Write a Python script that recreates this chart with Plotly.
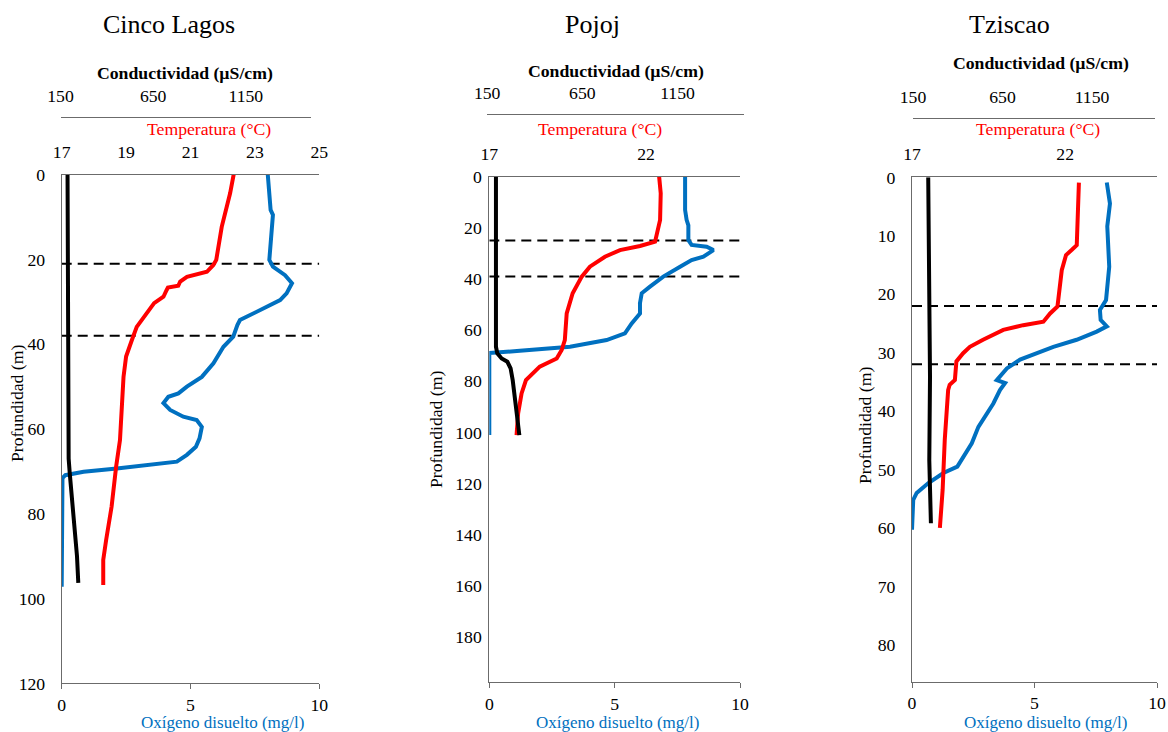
import plotly.graph_objects as go

# ---------------- Cinco Lagos ----------------
cl_oxy_depth = [0, 8.3, 9.5, 20.1, 21.7, 23.7, 25.6, 28, 29.6, 31.1, 32.7, 34.3, 35.5, 38.2,
                40.6, 44.5, 47.7, 50, 51.6, 52.4, 53.9, 55.5, 57.1, 57.9, 59.5, 62.2, 64.2,
                66.1, 67.7, 68.5, 69.3, 70.1, 70.9, 71.6, 97.2]
cl_oxy = [8.0, 8.11, 8.2, 8.06, 8.2, 8.67, 8.94, 8.73, 8.48, 7.96, 7.44, 6.92, 6.82, 6.66,
          6.28, 5.89, 5.44, 4.86, 4.53, 4.14, 3.95, 4.21, 4.72, 5.24, 5.44, 5.35, 5.21,
          4.86, 4.47, 3.43, 2.14, 0.85, 0.14, 0.03, 0.0]
cl_temp_depth = [0, 4.4, 12.3, 20.1, 21.3, 22.9, 24.1, 25.2, 26.2, 26.6, 27.2, 28.8, 30.3, 33.5,
                 35.9, 39, 42.9, 47.7, 55.5, 62.6, 68.9, 78.3, 86.2, 90.9, 96.8]
cl_temp = [22.34, 22.23, 21.97, 21.80, 21.71, 21.51, 20.89, 20.68, 20.62, 20.30, 20.26, 20.16,
           19.87, 19.54, 19.33, 19.18, 19.0, 18.92, 18.87, 18.81, 18.69, 18.55, 18.38, 18.29, 18.29]
cl_cond_depth = [0, 20, 40, 60, 67, 70.5, 80, 90, 96.3]
cl_cond = [188, 190, 192, 193, 194, 200, 220, 239, 246]
cl_thermocline = [21, 38]

# ---------------- Pojoj ----------------
pj_oxy_depth = [0, 13, 16.9, 19, 24.8, 26.7, 27.4, 28.7, 31.3, 32.6, 35.2, 39.1, 43, 45.6,
                49.5, 53.5, 57.4, 61.3, 63.9, 66.5, 68.1, 68.7, 69.0, 101.1]
pj_oxy = [7.81, 7.81, 7.87, 7.94, 7.94, 8.07, 8.67, 8.94, 8.54, 8.07, 7.61, 6.94, 6.41, 6.08,
          6.01, 6.01, 5.68, 5.41, 4.68, 3.22, 1.22, 0.1, 0.0, 0.0]
pj_temp_depth = [0, 6.5, 16.9, 20.9, 25.4, 27.1, 28.7, 31.3, 35.2, 39.1, 45.6, 53.5, 63.9,
                 67.8, 71.1, 74.3, 79.6, 84.8, 92.6, 101.1]
pj_temp = [22.42, 22.47, 22.45, 22.36, 22.29, 21.81, 21.17, 20.69, 20.21, 19.95, 19.66, 19.47,
           19.41, 19.31, 19.15, 18.61, 18.17, 18.03, 17.92, 17.87]
pj_cond_depth = [0, 32.6, 58.7, 66.5, 69.1, 71.1, 72.4, 75, 79.6, 87.4, 95.2, 101.1]
pj_cond = [196, 196, 191, 196, 203, 226, 256, 273, 284, 296, 308, 319]
pj_thermocline = [25, 39]

# ---------------- Tziscao ----------------
tz_oxy_depth = [0.9, 4.5, 8.4, 15.3, 21, 22.7, 24.4, 25.5, 26.4, 27.8, 29, 30.1, 31.2, 32.7,
                34.7, 35.2, 36.4, 38.7, 42.7, 45.5, 47.8, 49.5, 50.6, 52.3, 54, 55.2, 60.3]
tz_oxy = [7.95, 8.08, 7.97, 8.05, 7.92, 7.67, 7.70, 7.95, 7.54, 6.72, 5.77, 5.09, 4.41, 3.87,
          3.46, 3.8, 3.59, 3.32, 2.71, 2.44, 2.09, 1.85, 1.28, 0.67, 0.19, 0.05, 0.0]
tz_temp_depth = [0.9, 5.6, 11.6, 12.4, 13.3, 15.9, 21, 22.1, 23.3, 24.7, 25.3, 26.1, 27.8, 29,
                 30.1, 31.5, 34.7, 35.5, 36.4, 40.4, 44.9, 53.5, 60]
tz_temp = [22.45, 22.43, 22.38, 22.22, 22.03, 21.89, 21.78, 21.75, 21.51, 21.29, 20.63, 19.98,
           19.32, 18.89, 18.67, 18.45, 18.4, 18.23, 18.18, 18.13, 18.07, 18.0, 17.91]
tz_cond_depth = [0, 19.8, 34.1, 48.4, 59.2]
tz_cond = [235, 241, 245, 241, 250]
tz_thermocline = [22, 32]

lake_names = ["Cinco Lagos", "Pojoj", "Tziscao"]
depth_ticks = [[0, 20, 40, 60, 80, 100, 120],
               [0, 20, 40, 60, 80, 100, 120, 140, 160, 180],
               [0, 10, 20, 30, 40, 50, 60, 70, 80]]
depth_max = [120, 197.8, 86.3]
temp_ticks = [[17, 19, 21, 23, 25], [17, 22], [17, 22]]
cond_ticks = [150, 650, 1150]
oxy_ticks = [0, 5, 10]

W, H = 1168, 732
FONT = "'Times New Roman', 'Liberation Serif', 'DejaVu Serif', serif"
FS = 17.7
RED = "#FF0000"
BLUE = "#0070C0"
AXIS = "#6b6b6b"

# layout geometry in pixels: plot box and conductivity axis span per panel
plot_x = [(61.7, 319.3), (489.3, 740.0), (912.0, 1157.0)]
plot_y = [(174.7, 683.3), (176.7, 682.3), (177.3, 681.7)]
cond_x = [(60.5, 310.7), (487.2, 744.1), (913.0, 1154.7)]
cond_line_y = [117, 114, 118]
title_pos = [(169, 25), (592, 25), (1009, 25)]
cond_title_pos = [(185, 73), (616, 71), (1041, 63)]
temp_title_pos = [(209, 129), (600, 129), (1038, 129)]
oxy_title_pos = [(222, 722), (618, 722), (1045, 722)]
depth_title_pos = [(17, 403), (436, 429), (865, 425)]
ylab_standoff = [12, 3, 12]


def px(x):
    return x / W


def py(y):
    return 1 - y / H


data = [
    (cl_oxy_depth, cl_oxy, cl_temp_depth, cl_temp, cl_cond_depth, cl_cond, cl_thermocline),
    (pj_oxy_depth, pj_oxy, pj_temp_depth, pj_temp, pj_cond_depth, pj_cond, pj_thermocline),
    (tz_oxy_depth, tz_oxy, tz_temp_depth, tz_temp, tz_cond_depth, tz_cond, tz_thermocline),
]

fig = go.Figure()
layout = {}
annotations = []
tickfont = dict(family=FONT, size=FS, color="black")

for i in range(3):
    od, ov, td, tv, cd, cv, thermo = data[i]
    n_oxy, n_temp, n_cond = 3 * i + 1, 3 * i + 2, 3 * i + 3
    xo, xt, xc = f"x{n_oxy}", f"x{n_temp}", f"x{n_cond}"
    yy = f"y{i + 1}"

    # thermocline limits
    tx, ty = [], []
    for d in thermo:
        tx += [0, 10, None]
        ty += [d, d, None]
    fig.add_trace(go.Scatter(x=tx, y=ty, xaxis=xo, yaxis=yy, mode="lines",
                             line=dict(color="black", width=2, dash="10px,6px"),
                             showlegend=False, hoverinfo="skip"))
    # conductivity
    fig.add_trace(go.Scatter(x=cv, y=cd, xaxis=xc, yaxis=yy, mode="lines",
                             line=dict(color="black", width=4), showlegend=False,
                             name="Conductividad"))
    # temperature
    fig.add_trace(go.Scatter(x=tv, y=td, xaxis=xt, yaxis=yy, mode="lines",
                             line=dict(color=RED, width=4), showlegend=False,
                             name="Temperatura"))
    # dissolved oxygen
    fig.add_trace(go.Scatter(x=ov, y=od, xaxis=xo, yaxis=yy, mode="lines",
                             line=dict(color=BLUE, width=4), showlegend=False,
                             name="Oxígeno disuelto"))

    xdom = [px(plot_x[i][0]), px(plot_x[i][1])]
    ydom = [py(plot_y[i][1]), py(plot_y[i][0])]

    layout["xaxis" + ("" if n_oxy == 1 else str(n_oxy))] = dict(
        domain=xdom, anchor=yy, side="bottom", range=[0, 10], tickvals=oxy_ticks,
        showline=True, linecolor=AXIS, linewidth=1, ticks="outside", ticklen=5,
        tickcolor=AXIS, showgrid=False, zeroline=False, tickfont=tickfont,
        ticklabelstandoff=0)
    layout[f"xaxis{n_temp}"] = dict(
        overlaying=xo, anchor=yy, side="top", range=[17, 25], tickvals=temp_ticks[i],
        showline=True, linecolor=AXIS, linewidth=1, ticks="", showgrid=False,
        zeroline=False, tickfont=tickfont, ticklabelstandoff=9)
    layout[f"xaxis{n_cond}"] = dict(
        domain=[px(cond_x[i][0]), px(cond_x[i][1])], anchor="free",
        position=py(cond_line_y[i]), side="top", range=[150, 1500], tickvals=cond_ticks,
        showline=True, linecolor=AXIS, linewidth=1, ticks="", showgrid=False,
        zeroline=False, tickfont=tickfont, ticklabelstandoff=8)
    layout["yaxis" + ("" if i == 0 else str(i + 1))] = dict(
        domain=ydom, anchor=xo, range=[depth_max[i], 0], tickvals=depth_ticks[i],
        showline=True, linecolor=AXIS, linewidth=1, ticks="", showgrid=False,
        zeroline=False, tickfont=tickfont, ticklabelstandoff=ylab_standoff[i])

    def note(text, pos, size=FS, color="black", angle=0):
        annotations.append(dict(text=text, x=px(pos[0]), y=py(pos[1]), xref="paper",
                                yref="paper", showarrow=False, xanchor="center",
                                yanchor="middle", textangle=angle, borderpad=0,
                                font=dict(family=FONT, size=size, color=color)))

    note(lake_names[i], title_pos[i], size=26)
    note("<b>Conductividad (µS/cm)</b>", cond_title_pos[i])
    note("Temperatura (°C)", temp_title_pos[i], color=RED)
    note("Oxígeno disuelto (mg/l)", oxy_title_pos[i], size=17, color=BLUE)
    note("Profundidad (m)", depth_title_pos[i], angle=-90)

fig.update_layout(
    width=W, height=H,
    margin=dict(l=0, r=0, t=0, b=0, autoexpand=False),
    paper_bgcolor="white", plot_bgcolor="rgba(0,0,0,0)",
    font=dict(family=FONT),
    annotations=annotations, showlegend=False,
    **layout,
)

fig.write_html("out.html")
